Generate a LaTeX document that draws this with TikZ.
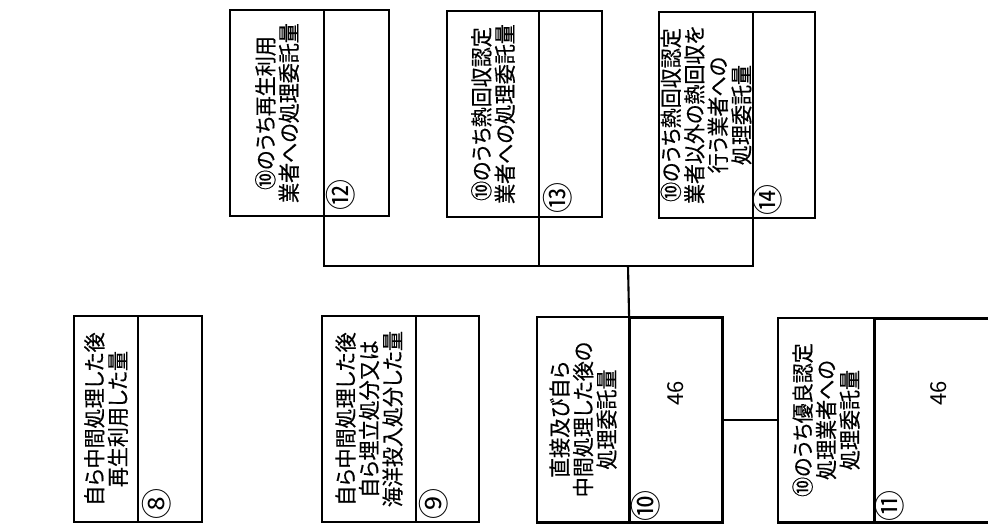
\documentclass[tikz,border=0pt]{standalone}
\usepackage{fontspec}
\newfontfamily\jp[RawFeature=+palt, FakeStretch=0.91, FakeBold=0.4]{Noto Sans CJK JP}
\newfontfamily\jpn{Noto Sans CJK JP}
\usetikzlibrary{calc}
\begin{document}
\begin{tikzpicture}[x=1pt,y=-1pt,
  part/.style={draw, line width=1.1pt, inner sep=0pt, anchor=north west},
  outer/.style={line width=2.3pt},
  conn/.style={line width=2.1pt},
  txt/.style={rotate=90, align=center, inner sep=0pt, font=\jp\fontsize{22}{23.5}\selectfont},
  circ/.style={rotate=90, inner sep=0pt, font=\jpn\fontsize{31}{31}\selectfont},
  val/.style={rotate=90, inner sep=0pt, font=\jpn\fontsize{22}{22}\selectfont}]
\useasboundingbox (0,0) rectangle (988,523);
% ---- box 8
\node[part, minimum width=63pt, minimum height=205pt] (l8) at (74,316) {};
\node[part, minimum width=63pt, minimum height=205pt] (v8) at (l8.north east) {};
\draw[outer] (l8.north west) rectangle (v8.south east);
\node[txt] at (l8.center) {自ら中間処理した後\\再生利用した量};
\node[circ] at ($(l8.south east)+(19,-18)$) {⑧};
% ---- box 9
\node[part, minimum width=93pt, minimum height=205pt] (l9) at (322,316) {};
\node[part, minimum width=62pt, minimum height=205pt] (v9) at (l9.north east) {};
\draw[outer] (l9.north west) rectangle (v9.south east);
\node[txt] at (l9.center) {自ら中間処理した後\\自ら埋立処分又は\\海洋投入処分した量};
\node[circ] at ($(l9.south east)+(18,-18)$) {⑨};
% ---- box 10
\node[part, minimum width=91pt, minimum height=204pt] (l10) at (537,317) {};
\node[part, minimum width=92pt, minimum height=204pt, line width=1.6pt] (v10) at (l10.north east) {};
\draw[outer] (l10.north west) rectangle (v10.south east);
\node[txt] at (l10.center) {直接及び自ら\\中間処理した後の\\処理委託量};
\node[circ] at ($(l10.south east)+(17,-16)$) {⑩};
\node[val] at ($(v10.north)!0.37!(v10.south)$) {46};
% ---- box 11
\node[part, minimum width=95pt, minimum height=203pt] (l11) at (778,318) {};
\node[part, minimum width=127pt, minimum height=203pt, line width=1.6pt] (v11) at (l11.north east) {};
\draw[outer] (l11.north west) rectangle (v11.south east);
\node[txt] at (l11.center) {⑩のうち優良認定\\処理業者への\\処理委託量};
\node[circ] at ($(l11.south east)+(16,-16)$) {⑪};
\node[val] at ($(v11.north)!0.37!(v11.south)$) {46};
% ---- box 12
\node[part, minimum width=93pt, minimum height=205pt] (l12) at (230,10) {};
\node[part, minimum width=64pt, minimum height=205pt] (v12) at (l12.north east) {};
\draw[outer] (l12.north west) rectangle (v12.south east);
\node[txt] at (l12.center) {⑩のうち再生利用\\業者への処理委託量};
\node[circ] at ($(l12.south east)+(17,-21)$) {⑫};
% ---- box 13
\node[part, minimum width=91pt, minimum height=205pt] (l13) at (447,11) {};
\node[part, minimum width=62pt, minimum height=205pt] (v13) at (l13.north east) {};
\draw[outer] (l13.north west) rectangle (v13.south east);
\node[txt] at (l13.center) {⑩のうち熱回収認定\\業者への処理委託量};
\node[circ] at ($(l13.south east)+(19,-19)$) {⑬};
% ---- box 14
\node[part, minimum width=93pt, minimum height=205pt] (l14) at (659,12) {};
\node[part, minimum width=61pt, minimum height=205pt] (v14) at (l14.north east) {};
\draw[outer] (l14.north west) rectangle (v14.south east);
\node[txt] at (l14.center) {⑩のうち熱回収認定\\業者以外の熱回収を\\行う業者への\\処理委託量};
\node[circ] at ($(l14.south east)+(15,-18)$) {⑭};
% ---- connectors
\coordinate (bus) at (628,266);
\draw[conn] (l12.south east) |- (bus) -| (l14.south east);
\draw[conn] (l13.south east) -- (l13.south east |- bus);
\draw[conn] (bus) -- (l10.north east);
\draw[conn] (v10.east) -- (v10.east -| l11.west);
\end{tikzpicture}
\end{document}
